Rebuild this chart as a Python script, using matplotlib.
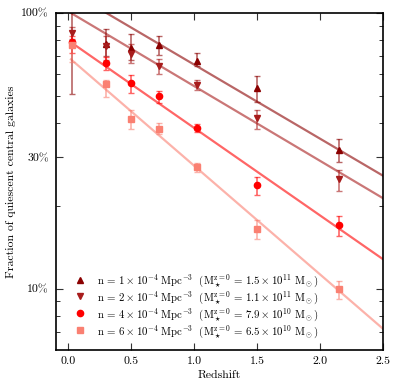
import numpy as np
import matplotlib
matplotlib.use("Agg")
import matplotlib.pyplot as plt
from matplotlib.ticker import FixedLocator, FixedFormatter, NullFormatter

plt.rcParams['font.family'] = 'serif'
plt.rcParams['font.serif'] = ['cmr10', 'DejaVu Serif']
plt.rcParams['mathtext.fontset'] = 'cm'
plt.rcParams['axes.unicode_minus'] = False
plt.rcParams['axes.formatter.use_mathtext'] = True

# Data
redshift = [0.03, 0.3, 0.5, 0.72, 1.02, 1.5, 2.15]

frac_n1 = [1.05, 0.769, 0.749, 0.766, 0.672, 0.534, 0.319]
hi_n1 = [1.25, 0.875, 0.839, 0.826, 0.716, 0.593, 0.350]
lo_n1 = [0.508, 0.699, 0.676, 0.704, 0.643, 0.477, 0.289]

frac_n2 = [0.844, 0.759, 0.709, 0.644, 0.548, 0.415, 0.250]
hi_n2 = [0.890, 0.826, 0.772, 0.681, 0.572, 0.445, 0.270]
lo_n2 = [0.805, 0.676, 0.659, 0.601, 0.526, 0.380, 0.226]

frac_n4 = [0.782, 0.657, 0.556, 0.498, 0.382, 0.238, 0.171]
hi_n4 = [0.826, 0.694, 0.596, 0.523, 0.396, 0.255, 0.184]
lo_n4 = [0.714, 0.622, 0.513, 0.472, 0.369, 0.219, 0.156]

frac_n6 = [0.763, 0.553, 0.413, 0.380, 0.276, 0.165, 0.0998]
hi_n6 = [0.798, 0.572, 0.445, 0.400, 0.287, 0.178, 0.107]
lo_n6 = [0.666, 0.497, 0.380, 0.364, 0.266, 0.152, 0.0919]

# Best-fit lines (straight in log space), values at the endpoints
fit_z = [0.02, 2.5]
fit_n1 = [1.19, 0.257]
fit_n2 = [1.0, 0.213]
fit_n4 = [0.783, 0.128]
fit_n6 = [0.679, 0.0716]

labels = [
    r'$\mathrm{n}\,=\,1 \times 10^{-4}\ \mathrm{Mpc^{-3}}\ \ (\mathrm{M}_\star^{\mathrm{z=0}}\,=\,1.5 \times 10^{11}\ \mathrm{M}_\odot)$',
    r'$\mathrm{n}\,=\,2 \times 10^{-4}\ \mathrm{Mpc^{-3}}\ \ (\mathrm{M}_\star^{\mathrm{z=0}}\,=\,1.1 \times 10^{11}\ \mathrm{M}_\odot)$',
    r'$\mathrm{n}\,=\,4 \times 10^{-4}\ \mathrm{Mpc^{-3}}\ \ (\mathrm{M}_\star^{\mathrm{z=0}}\,=\,7.9 \times 10^{10}\ \mathrm{M}_\odot)$',
    r'$\mathrm{n}\,=\,6 \times 10^{-4}\ \mathrm{Mpc^{-3}}\ \ (\mathrm{M}_\star^{\mathrm{z=0}}\,=\,6.5 \times 10^{10}\ \mathrm{M}_\odot)$',
]
colors = ['#8b0000', '#a81c1c', '#ff0000', '#fa8072']
markers = ['^', 'v', 'o', 's']

series = [
    (frac_n1, lo_n1, hi_n1, fit_n1),
    (frac_n2, lo_n2, hi_n2, fit_n2),
    (frac_n4, lo_n4, hi_n4, fit_n4),
    (frac_n6, lo_n6, hi_n6, fit_n6),
]

fig = plt.figure(figsize=(3.99, 3.90), dpi=100)
ax = fig.add_axes([0.140, 0.1026, 0.820, 0.8641])

handles = []
for (f, lo, hi, fit), c, m, lab in zip(series, colors, markers, labels):
    f = np.array(f); lo = np.array(lo); hi = np.array(hi)
    ax.plot(fit_z, fit, '-', color=c, alpha=0.6, lw=1.6, zorder=1)
    ax.errorbar(redshift, f, yerr=[f - lo, hi - f], fmt='none', ecolor=c,
                alpha=0.6, elinewidth=1.2, capsize=2.5, capthick=1.0, zorder=2)
    h, = ax.plot(redshift, f, linestyle='none', marker=m, color=c, mec=c,
                 markersize=4.5, zorder=3, label=lab)
    handles.append(h)

ax.set_yscale('log')
ax.set_xlim(-0.1, 2.5)
ax.set_ylim(0.06, 1.0)

ax.yaxis.set_major_locator(FixedLocator([0.1, 0.3, 1.0]))
ax.yaxis.set_major_formatter(FixedFormatter(['10%', '30%', '100%']))
ax.yaxis.set_minor_locator(FixedLocator([0.07, 0.08, 0.09, 0.2, 0.4, 0.5, 0.6, 0.7, 0.8, 0.9]))
ax.yaxis.set_minor_formatter(NullFormatter())
ax.set_xticks([0.0, 0.5, 1.0, 1.5, 2.0, 2.5])
ax.set_xticklabels(['0.0', '0.5', '1.0', '1.5', '2.0', '2.5'])

ax.tick_params(which='both', direction='in', top=True, right=True, labelsize=8.5, color='#333333')
ax.tick_params(which='major', length=5, width=0.8, pad=5)
ax.tick_params(which='minor', length=3, width=0.7)
for s in ax.spines.values():
    s.set_linewidth(1.2)
    s.set_color('black')

ax.set_xlabel('Redshift', fontsize=8.5, labelpad=3)
ax.set_ylabel('Fraction of quiescent central galaxies', fontsize=8.5, labelpad=4)

ax.legend(handles=handles, loc='lower left', bbox_to_anchor=(0.03, 0.005), frameon=False,
          fontsize=7.8, handlelength=1.0, handletextpad=1.1, labelspacing=0.0,
          borderpad=0.5, numpoints=1, borderaxespad=0.3)

fig.savefig('out.png', dpi=100)
